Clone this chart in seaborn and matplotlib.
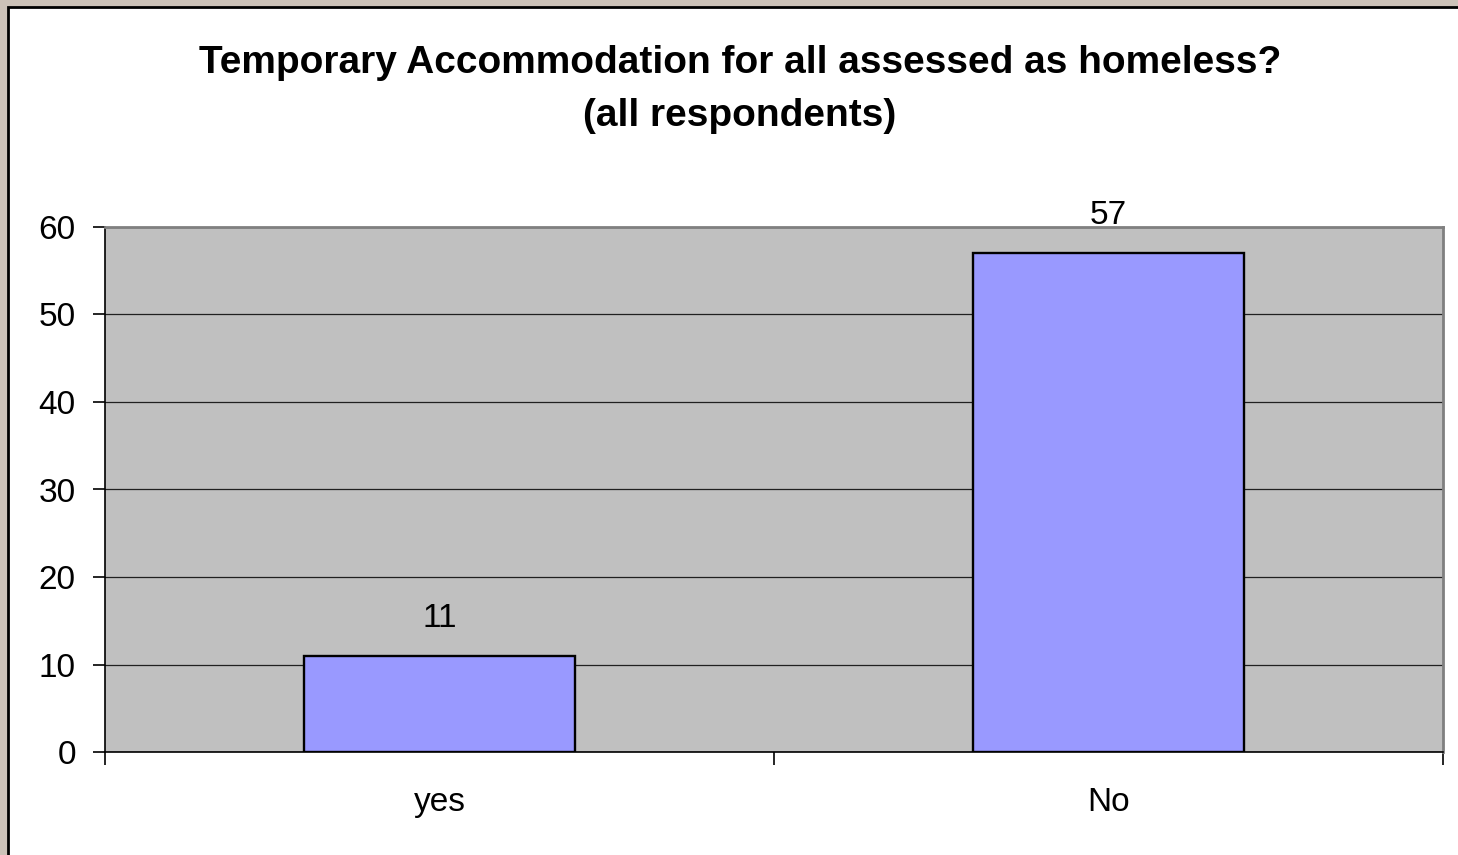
import matplotlib
matplotlib.use("Agg")
import matplotlib.pyplot as plt
import matplotlib.patches as mpatches
import seaborn as sns
import pandas as pd

# Data
categories = ["yes", "No"]
counts = [11, 57]
y_ticks = [0, 10, 20, 30, 40, 50, 60]

df = pd.DataFrame({"answer": categories, "count": counts})

plt.rcParams["font.family"] = ["Liberation Sans", "DejaVu Sans"]

fig = plt.figure(figsize=(14.58, 8.55), dpi=100)
fig.patch.set_facecolor("#CCC2B8")

# white chart area with black edge (left and top visible)
W, H = 1458, 855
frame = mpatches.Rectangle((8 / W, -0.05), 1.2, (855 - 7) / H + 0.05,
                           transform=fig.transFigure, facecolor="white",
                           edgecolor="black", linewidth=2, zorder=-5)
fig.patches.append(frame)

ax = fig.add_axes([105 / W, 1 - 752 / H, (1443 - 105) / W, (752 - 227) / H])
ax.set_facecolor("#C0C0C0")

sns.barplot(data=df, x="answer", y="count", color="#9999FF", saturation=1,
            edgecolor="black", linewidth=1.7, width=0.405, ax=ax, zorder=3)

# value labels
for i, v in enumerate(counts):
    ax.text(i, v + 2.5, str(v), ha="center", va="bottom", fontsize=24)

ax.set_ylim(0, 60)
ax.set_xlim(-0.5, 1.5)
ax.set_yticks(y_ticks)
ax.yaxis.grid(True, color="#202020", linewidth=0.9, zorder=1)
ax.set_axisbelow(True)

ax.set_xlabel("")
ax.set_ylabel("")

# category boundaries as tick marks
ax.set_xticks([-0.5, 0.5, 1.5], minor=True)
ax.tick_params(axis="x", which="minor", length=9, width=1.2, color="black")
ax.tick_params(axis="x", which="major", length=0, pad=25, labelsize=24)
ax.tick_params(axis="y", length=9, width=1.2, pad=12, labelsize=24)

for side in ["top", "right"]:
    ax.spines[side].set_color("#808080")
    ax.spines[side].set_linewidth(2)
for side in ["left", "bottom"]:
    ax.spines[side].set_color("black")
    ax.spines[side].set_linewidth(1.2)

fig.text(740 / W, 1 - 63 / H, "Temporary Accommodation for all assessed as homeless?",
         ha="center", va="center", fontsize=28, fontweight="bold")
fig.text(740 / W, 1 - 116 / H, "(all respondents)",
         ha="center", va="center", fontsize=28, fontweight="bold")

fig.savefig("out.png", dpi=100, facecolor=fig.get_facecolor())
